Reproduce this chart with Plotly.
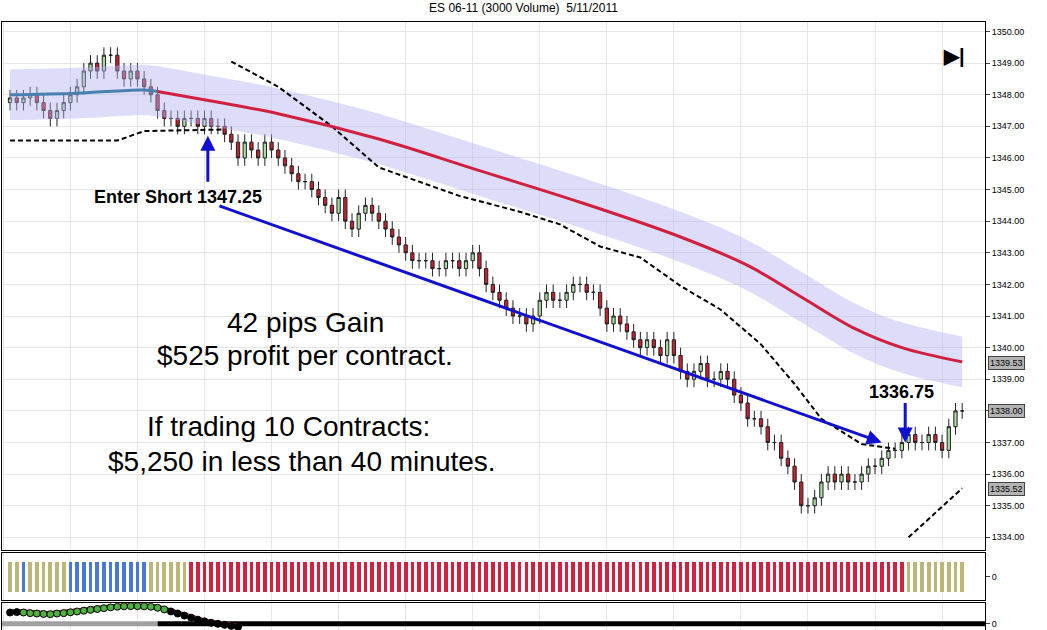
import plotly.graph_objects as go

# ES 06-11 3000-volume bars, closes (open = previous close)
closes = [
    1347.9, 1347.75, 1347.9, 1348.0, 1347.75, 1347.5, 1347.25, 1347.5, 1347.75, 1348.0,
    1348.25, 1348.75, 1349.0, 1348.75, 1349.25, 1349.25, 1348.75, 1348.5, 1348.75, 1348.5,
    1348.25, 1348.0, 1347.5, 1347.25, 1347.25, 1347.0, 1347.25, 1347.25, 1347.0, 1347.25,
    1347.0, 1347.0, 1346.75, 1346.5, 1346.0, 1346.5, 1346.25, 1346.0, 1346.5, 1346.25,
    1346.0, 1345.75, 1345.5, 1345.25, 1345.25, 1345.0, 1344.75, 1344.5, 1344.25, 1344.75,
    1344.0, 1343.75, 1344.25, 1344.5, 1344.25, 1344.0, 1343.75, 1343.5, 1343.25, 1343.0,
    1342.75, 1342.75, 1342.75, 1342.5, 1342.5, 1342.75, 1342.75, 1342.5, 1342.75, 1343.0,
    1342.5, 1342.0, 1341.75, 1341.5, 1341.25, 1341.0, 1341.0, 1340.75, 1341.0, 1341.5,
    1341.75, 1341.5, 1341.5, 1341.75, 1342.0, 1342.0, 1341.75, 1341.75, 1341.25, 1340.75,
    1341.0, 1340.75, 1340.5, 1340.25, 1340.0, 1340.25, 1340.0, 1339.75, 1340.25, 1339.75,
    1339.25, 1339.0, 1339.25, 1339.5, 1339.0, 1339.0, 1339.25, 1339.0, 1338.5, 1338.25,
    1337.75, 1337.75, 1337.5, 1337.0, 1337.0, 1336.5, 1336.25, 1335.75, 1335.0, 1335.0,
    1335.25, 1335.75, 1336.0, 1335.75, 1336.0, 1335.75, 1335.75, 1336.0, 1336.25, 1336.25,
    1336.5, 1336.75, 1336.75, 1337.0, 1337.25, 1337.0, 1337.0, 1337.25, 1337.0, 1336.75,
    1337.5, 1338.0, 1338.0,
]
first_open = 1347.75

# moving average + band (read at a few bar indices)
ma_idx = [0, 10, 20, 22, 30, 40, 55, 70, 85, 100, 110, 118, 126, 133, 142]
ma_val = [1348.0, 1348.05, 1348.15, 1348.1, 1347.8, 1347.4, 1346.6, 1345.6, 1344.6,
          1343.5, 1342.6, 1341.6, 1340.6, 1340.0, 1339.55]
band_half = 0.8

# stop line dashes
stop_lo_idx = [0, 16, 20, 32]
stop_lo_val = [1346.55, 1346.55, 1346.85, 1346.9]
stop_hi_idx = [33, 40, 48, 55, 61, 67, 76, 82, 88, 94, 100, 106, 112, 117, 121, 127, 132]
stop_hi_val = [1349.05, 1348.25, 1347.0, 1345.7, 1345.25, 1344.8, 1344.3, 1343.9, 1343.2,
               1342.85, 1341.95, 1341.2, 1340.1, 1338.85, 1337.75, 1336.95, 1336.8]
stop_up_idx = [134, 142]
stop_up_val = [1334.0, 1335.55]

# regime bar colours (K=khaki, B=blue, R=red) as run lengths
regime_runs = [("K", 2), ("B", 1), ("K", 6), ("B", 12), ("K", 6), ("R", 107), ("K", 9)]

# oscillator dots for the first bars
osc_val = [0.55, 0.57, 0.55, 0.52, 0.5, 0.48, 0.47, 0.5, 0.52, 0.56, 0.6, 0.64, 0.68,
           0.72, 0.76, 0.8, 0.83, 0.85, 0.86, 0.86, 0.85, 0.83, 0.78, 0.7, 0.6, 0.5,
           0.4, 0.3, 0.2, 0.12, 0.05, 0.0, -0.05, -0.1, -0.15]
osc_green = set(range(2, 24))

n = len(closes)
x = list(range(n))
opens = [first_open] + closes[:-1]
highs = [max(o, c) + 0.25 for o, c in zip(opens, closes)]
lows = [min(o, c) - 0.25 for o, c in zip(opens, closes)]

fig = go.Figure()

# band
fig.add_trace(go.Scatter(x=ma_idx, y=[v + band_half for v in ma_val], mode="lines",
                         line=dict(width=0, shape="spline"), hoverinfo="skip", showlegend=False))
fig.add_trace(go.Scatter(x=ma_idx, y=[v - band_half for v in ma_val], mode="lines",
                         line=dict(width=0, shape="spline"), fill="tonexty",
                         fillcolor="rgba(180,180,245,0.45)", hoverinfo="skip", showlegend=False))

# stop dashes
for xs, ys in [(stop_lo_idx, stop_lo_val), (stop_hi_idx, stop_hi_val), (stop_up_idx, stop_up_val)]:
    fig.add_trace(go.Scatter(x=xs, y=ys, mode="lines", line=dict(color="black", width=2, dash="5px,3px"),
                             showlegend=False))

fig.add_trace(go.Candlestick(
    x=x, open=opens, high=highs, low=lows, close=closes,
    increasing=dict(fillcolor="#a8dca0", line=dict(color="#222", width=1)),
    decreasing=dict(fillcolor="#c8202e", line=dict(color="#222", width=1)),
    whiskerwidth=0, showlegend=False))

# MA: blue start then crimson
fig.add_trace(go.Scatter(x=ma_idx[:4], y=ma_val[:4], mode="lines",
                         line=dict(color="#4a80b0", width=3, shape="spline"), showlegend=False))
fig.add_trace(go.Scatter(x=ma_idx[3:], y=ma_val[3:], mode="lines",
                         line=dict(color="#d0203e", width=3, shape="spline"), showlegend=False))

# regime bars
cmap = {"K": "#bcb678", "B": "#4a78d8", "R": "#d4203c"}
reg_colors = []
for code, cnt in regime_runs:
    reg_colors += [cmap[code]] * cnt
fig.add_trace(go.Bar(x=x, y=[2] * n, base=-1, marker=dict(color=reg_colors, line_width=0),
                     width=0.55, xaxis="x2", yaxis="y2", showlegend=False))

# oscillator panel
fig.add_trace(go.Scatter(x=[-2, 22], y=[0, 0], mode="lines", line=dict(color="#a0a0a0", width=5),
                         xaxis="x3", yaxis="y3", showlegend=False))
fig.add_trace(go.Scatter(x=[22, 146], y=[0, 0], mode="lines", line=dict(color="black", width=5),
                         xaxis="x3", yaxis="y3", showlegend=False))
fig.add_trace(go.Scatter(x=list(range(len(osc_val))), y=[v + 0.12 for v in osc_val], mode="lines",
                         line=dict(color="#c03050", width=1.5), xaxis="x3", yaxis="y3", showlegend=False))
fig.add_trace(go.Scatter(x=list(range(len(osc_val))), y=osc_val, mode="markers",
                         marker=dict(size=7, color=["#50b040" if i in osc_green else "black"
                                                    for i in range(len(osc_val))],
                                     line=dict(color="black", width=1)),
                         xaxis="x3", yaxis="y3", showlegend=False))

xr = [-1.2, 145.4]
ax_common = dict(range=xr, showticklabels=False, showgrid=True, gridcolor="#e6e6e6",
                 tick0=9, dtick=10, zeroline=False, showline=True, linecolor="black",
                 mirror=True, fixedrange=True, automargin=False)

fig.update_layout(
    width=1047, height=630,
    margin=dict(l=2, r=62, t=22, b=0),
    paper_bgcolor="white", plot_bgcolor="white",
    font=dict(family="Arial, Liberation Sans", color="black"),
    title=dict(text="ES 06-11 (3000 Volume)  5/11/2011", x=0.5, y=0.995, yanchor="top",
               font=dict(size=12), automargin=False),
    xaxis=dict(**ax_common, domain=[0, 1], anchor="y", rangeslider=dict(visible=False)),
    yaxis=dict(domain=[0.1316, 1], range=[1333.6, 1350.3], side="right", dtick=1,
               tickformat=".2f", ticks="outside", ticklen=4, tickfont=dict(size=9),
               showgrid=True, gridcolor="#e6e6e6", showline=True, linecolor="black",
               mirror=True, zeroline=False, automargin=False),
    xaxis2=dict(**ax_common, domain=[0, 1], anchor="y2"),
    yaxis2=dict(domain=[0.049, 0.127], range=[-1.6, 1.6], side="right", tickvals=[0],
                ticks="outside", ticklen=4, tickfont=dict(size=9), showgrid=False,
                showline=True, linecolor="black", mirror=True, zeroline=False, automargin=False),
    xaxis3=dict(**ax_common, domain=[0, 1], anchor="y3"),
    yaxis3=dict(domain=[0, 0.044], range=[-0.3, 1.0], side="right", tickvals=[0],
                ticks="outside", ticklen=4, tickfont=dict(size=9), showgrid=False,
                showline=True, linecolor="black", mirror=True, zeroline=False, automargin=False),
    bargap=0,
)

# price boxes on right axis
for v in [1339.53, 1338.00, 1335.52]:
    fig.add_annotation(x=1.003, xref="paper", y=v, yref="y", text=f"{v:.2f}", showarrow=False,
                       xanchor="left", font=dict(size=9), bgcolor="#b4b4b4",
                       bordercolor="#444", borderwidth=1, borderpad=1)

# trade annotations
fig.add_annotation(x=25, y=1344.75, text="<b>Enter Short 1347.25</b>", showarrow=False,
                   font=dict(size=18), xanchor="center")
fig.add_annotation(x=29.5, y=1346.7, ax=29.5, ay=1345.2, axref="x", ayref="y",
                   text="", showarrow=True, arrowhead=2, arrowsize=1, arrowwidth=3, arrowcolor="#1010d0")
fig.add_annotation(x=130, y=1337.0, ax=31, ay=1344.5, axref="x", ayref="y",
                   text="", showarrow=True, arrowhead=2, arrowsize=1, arrowwidth=3, arrowcolor="#1010d0")
fig.add_annotation(x=133, y=1338.6, text="<b>1336.75</b>", showarrow=False, font=dict(size=18))
fig.add_annotation(x=133.5, y=1337.0, ax=133.5, ay=1338.3, axref="x", ayref="y",
                   text="", showarrow=True, arrowhead=2, arrowsize=1, arrowwidth=3, arrowcolor="#1010d0")

for xx, yy, t in [(44, 1340.8, "42 pips Gain"), (44, 1339.75, "$525 profit per contract."),
                  (41.5, 1337.5, "If trading 10 Contracts:"), (43.5, 1336.4, "$5,250 in less than 40 minutes.")]:
    fig.add_annotation(x=xx, y=yy, text=t, showarrow=False, font=dict(size=28), xanchor="center")

fig.add_annotation(x=0.982, xref="paper", y=0.965, yref="paper", text="<b>▶|</b>", showarrow=False,
                   font=dict(size=20))

fig.write_html("out.html", config={"displayModeBar": False},
               post_script="document.body.style.margin='0';")
